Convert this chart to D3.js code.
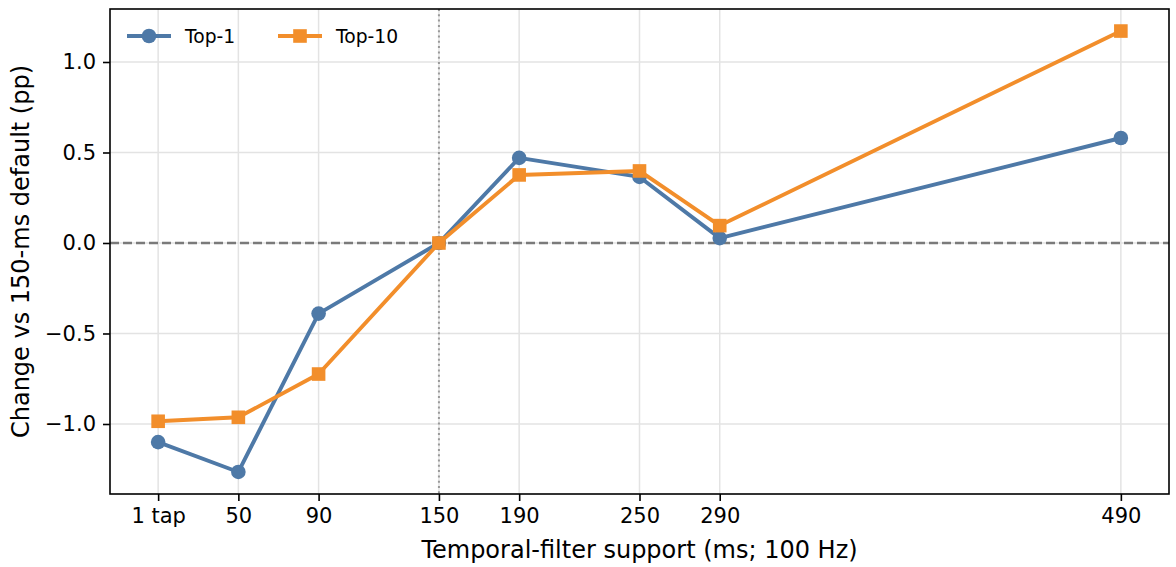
<!DOCTYPE html>
<html>
<head>
<meta charset="utf-8">
<script src="https://cdn.jsdelivr.net/npm/d3@7"></script>
<style>
  html, body { margin: 0; padding: 0; background: #fff; }
  svg { display: block; font-family: "DejaVu Sans", sans-serif; }
</style>
</head>
<body>
<svg id="chart" width="1176" height="567"></svg>
<script>
// support in ms (the "1 tap" point sits at 10)
const supports = [10, 50, 90, 150, 190, 250, 290, 490];
const tickLabels = ["1 tap", "50", "90", "150", "190", "250", "290", "490"];
const top1 = [-1.10, -1.265, -0.39, 0.0, 0.47, 0.365, 0.027, 0.58];
const top10 = [-0.985, -0.963, -0.724, 0.0, 0.376, 0.398, 0.096, 1.171];
const yTicks = [-1.0, -0.5, 0.0, 0.5, 1.0];

const series = [
  { name: "Top-1", values: top1, color: "#4e79a7", marker: "circle" },
  { name: "Top-10", values: top10, color: "#f28e2b", marker: "square" },
];

const svg = d3.select("#chart");
const margin = { top: 9, right: 7, bottom: 73, left: 110 };
const W = 1176, H = 567;

// matplotlib-style 5% padding around the data
const xExt = d3.extent(supports);
const xPad = (xExt[1] - xExt[0]) * 0.05;
const allY = top1.concat(top10);
const yExt = d3.extent(allY);
const yPad = (yExt[1] - yExt[0]) * 0.05;

const x = d3.scaleLinear()
  .domain([xExt[0] - xPad, xExt[1] + xPad])
  .range([margin.left, W - margin.right]);
const y = d3.scaleLinear()
  .domain([yExt[0] - yPad, yExt[1] + yPad])
  .range([H - margin.bottom, margin.top]);

// grid
const grid = svg.append("g");
grid.selectAll(".gx").data(supports).enter().append("line")
  .attr("x1", d => x(d)).attr("x2", d => x(d))
  .attr("y1", margin.top).attr("y2", H - margin.bottom)
  .attr("stroke", "#e3e3e3").attr("stroke-width", 1.5);
grid.selectAll(".gy").data(yTicks).enter().append("line")
  .attr("x1", margin.left).attr("x2", W - margin.right)
  .attr("y1", d => y(d)).attr("y2", d => y(d))
  .attr("stroke", "#e3e3e3").attr("stroke-width", 1.5);

// reference lines
svg.append("line")
  .attr("x1", margin.left).attr("x2", W - margin.right)
  .attr("y1", y(0)).attr("y2", y(0))
  .attr("stroke", "#7a7a7a").attr("stroke-width", 2.5)
  .attr("stroke-dasharray", "9,4");
svg.append("line")
  .attr("x1", x(150)).attr("x2", x(150))
  .attr("y1", margin.top).attr("y2", H - margin.bottom)
  .attr("stroke", "#999").attr("stroke-width", 2)
  .attr("stroke-dasharray", "2,3.3");

const line = d3.line().x(d => x(d[0])).y(d => y(d[1]));

series.forEach(s => {
  const pts = supports.map((v, i) => [v, s.values[i]]);
  const g = svg.append("g");
  g.append("path")
    .datum(pts)
    .attr("d", line)
    .attr("fill", "none")
    .attr("stroke", s.color)
    .attr("stroke-width", 3.9)
    .attr("stroke-linejoin", "round");
  if (s.marker === "circle") {
    g.selectAll("circle").data(pts).enter().append("circle")
      .attr("cx", d => x(d[0])).attr("cy", d => y(d[1]))
      .attr("r", 7.3).attr("fill", s.color);
  } else {
    g.selectAll("rect").data(pts).enter().append("rect")
      .attr("x", d => x(d[0]) - 6.8).attr("y", d => y(d[1]) - 6.8)
      .attr("width", 13.6).attr("height", 13.6).attr("fill", s.color);
  }
});

// axes
const xAxis = svg.append("g")
  .attr("transform", `translate(0,${H - margin.bottom})`)
  .call(d3.axisBottom(x).tickValues(supports).tickFormat((d, i) => tickLabels[i])
    .tickSizeOuter(0).tickSize(7).tickPadding(7));
const yAxis = svg.append("g")
  .attr("transform", `translate(${margin.left},0)`)
  .call(d3.axisLeft(y).tickValues(yTicks).tickFormat(d => d3.format(".1f")(d).replace("-", "\u2212"))
    .tickSizeOuter(0).tickSize(7).tickPadding(7));
[xAxis, yAxis].forEach(a => {
  a.select(".domain").remove();
  a.selectAll(".tick line").attr("stroke", "#000").attr("stroke-width", 1.6);
  a.selectAll(".tick text").attr("fill", "#000")
    .style("font-family", "DejaVu Sans").style("font-size", "21px");
});

// frame
svg.append("rect")
  .attr("x", margin.left).attr("y", margin.top)
  .attr("width", W - margin.left - margin.right)
  .attr("height", H - margin.top - margin.bottom)
  .attr("fill", "none").attr("stroke", "#000").attr("stroke-width", 1.6);

// axis labels
svg.append("text")
  .attr("x", (margin.left + W - margin.right) / 2)
  .attr("y", 558)
  .attr("text-anchor", "middle")
  .style("font-size", "24px")
  .text("Temporal-filter support (ms; 100 Hz)");
svg.append("text")
  .attr("transform", `translate(29,${(margin.top + H - margin.bottom) / 2}) rotate(-90)`)
  .attr("text-anchor", "middle")
  .style("font-size", "24px")
  .text("Change vs 150-ms default (pp)");

// legend
const legend = svg.append("g").attr("transform", "translate(127,36)");
const legendX = [0, 151];
series.forEach((s, i) => {
  const lg = legend.append("g").attr("transform", `translate(${legendX[i]},0)`);
  lg.append("line").attr("x1", 0).attr("x2", 44).attr("y1", 0).attr("y2", 0)
    .attr("stroke", s.color).attr("stroke-width", 3.9);
  if (s.marker === "circle") {
    lg.append("circle").attr("cx", 22).attr("cy", 0).attr("r", 7.3).attr("fill", s.color);
  } else {
    lg.append("rect").attr("x", 15.2).attr("y", -6.8).attr("width", 13.6).attr("height", 13.6).attr("fill", s.color);
  }
  lg.append("text").attr("x", 58).attr("y", 0).attr("dy", "0.36em")
    .style("font-size", "18.7px").text(s.name);
});
</script>
</body>
</html>
